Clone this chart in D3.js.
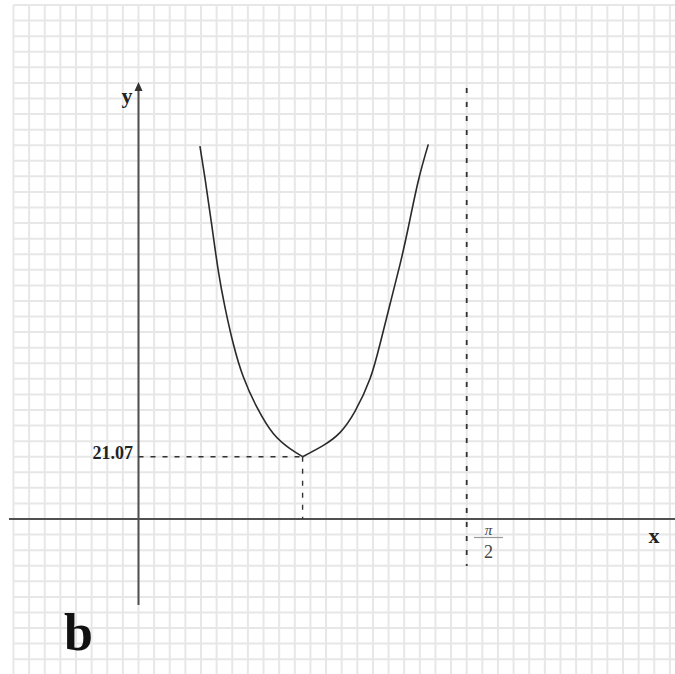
<!DOCTYPE html>
<html>
<head>
<meta charset="utf-8">
<script src="https://cdn.jsdelivr.net/npm/d3@7/dist/d3.min.js"></script>
<style>
  html, body { margin: 0; padding: 0; background: #fff; }
  svg { display: block; }
</style>
</head>
<body>
<svg id="chart" width="675" height="674"></svg>
<script>
// Left branch of the curve, down to the minimum at x = π/4
const leftX = [0.294, 0.318, 0.350, 0.382, 0.414, 0.454, 0.502, 0.566, 0.645, 0.725, 0.7854];
const leftY = [126.1, 115.4, 99.7, 83.9, 71.6, 59.2, 48.0, 37.9, 28.9, 23.8, 21.07];
// Right branch, from the minimum up towards the asymptote x = π/2
const rightX = [0.7854, 0.885, 0.964, 1.036, 1.108, 1.156, 1.204, 1.252, 1.291, 1.339, 1.387];
const rightY = [21.07, 24.9, 29.2, 36.4, 47.4, 59.2, 72.7, 86.2, 98.5, 114.3, 126.7];
const minPoint = { x: Math.PI / 4, y: 21.07 };
const minLabel = "21.07";
const asymptoteX = Math.PI / 2;

const W = 675, H = 674;
const svg = d3.select("#chart");

const x = d3.scaleLinear().domain([0, Math.PI / 2]).range([138.5, 466.7]);
const y = d3.scaleLinear().domain([0, 21.07]).range([519, 456.7]);

// graph-paper grid: 21 cells between 0 and π/2, 4 cells between 0 and 21.07
const dxCell = (Math.PI / 2) / 21;
const dyCell = 21.07 / 4;
const xMin = x.invert(11), xMax = x.invert(W);
const yMax = y.invert(3), yMin = y.invert(H);
const gx = d3.range(Math.ceil(xMin / dxCell), Math.floor(xMax / dxCell) + 1).map(k => k * dxCell);
const gy = d3.range(Math.ceil(yMin / dyCell), Math.floor(yMax / dyCell) + 1).map(k => k * dyCell);

const grid = svg.append("g").attr("stroke", "#e7e7e7").attr("stroke-width", 2);
grid.selectAll("line.v").data(gx).join("line")
  .attr("x1", d => x(d)).attr("x2", d => x(d))
  .attr("y1", y(gy[gy.length - 1])).attr("y2", H);
grid.selectAll("line.h").data(gy).join("line")
  .attr("x1", x(gx[0])).attr("x2", W)
  .attr("y1", d => y(d)).attr("y2", d => y(d));

// axes
const axisColor = "#505050";
svg.append("line")
  .attr("x1", 9).attr("x2", W).attr("y1", y(0)).attr("y2", y(0))
  .attr("stroke", axisColor).attr("stroke-width", 2);
svg.append("line")
  .attr("x1", x(0)).attr("x2", x(0)).attr("y1", 88).attr("y2", 605)
  .attr("stroke", axisColor).attr("stroke-width", 2);
svg.append("path")
  .attr("d", `M${x(0)},82 L${x(0) - 4},91 L${x(0) + 4},91 Z`)
  .attr("fill", "#333");

// dashed guides
const dash = "5,7";
svg.append("line")
  .attr("x1", x(asymptoteX)).attr("x2", x(asymptoteX)).attr("y1", 88).attr("y2", 566)
  .attr("stroke", "#333").attr("stroke-width", 1.8).attr("stroke-dasharray", "5,9");
svg.append("line")
  .attr("x1", x(0)).attr("x2", x(minPoint.x)).attr("y1", y(minPoint.y)).attr("y2", y(minPoint.y))
  .attr("stroke", "#333").attr("stroke-width", 1.4).attr("stroke-dasharray", dash);
svg.append("line")
  .attr("x1", x(minPoint.x)).attr("x2", x(minPoint.x)).attr("y1", y(minPoint.y)).attr("y2", y(0))
  .attr("stroke", "#333").attr("stroke-width", 1.4).attr("stroke-dasharray", dash);

// the curve, two branches meeting at the minimum
const line = d3.line().x(d => x(d[0])).y(d => y(d[1])).curve(d3.curveNatural);
[d3.zip(leftX, leftY), d3.zip(rightX, rightY)].forEach(pts => {
  svg.append("path").datum(pts).attr("d", line)
    .attr("fill", "none").attr("stroke", "#2a2a2a").attr("stroke-width", 1.6);
});

// labels
const serif = "'Liberation Serif', 'DejaVu Serif', serif";
svg.append("text").text("y").attr("x", 127).attr("y", 103)
  .attr("text-anchor", "middle").attr("font-family", serif).attr("font-weight", "bold")
  .attr("font-size", 22).attr("fill", "#222");
svg.append("text").text("x").attr("x", 654).attr("y", 543)
  .attr("text-anchor", "middle").attr("font-family", serif).attr("font-weight", "bold")
  .attr("font-size", 22).attr("fill", "#222");
svg.append("text").text(minLabel).attr("x", 133).attr("y", 459)
  .attr("text-anchor", "end").attr("font-family", serif).attr("font-weight", "bold")
  .attr("font-size", 18).attr("fill", "#222");

// π/2 under the asymptote
const fx = 488.5;
svg.append("text").text("π").attr("x", fx).attr("y", 535)
  .attr("text-anchor", "middle").attr("font-family", serif).attr("font-style", "italic")
  .attr("font-size", 15).attr("fill", "#444");
svg.append("line").attr("x1", 474).attr("x2", 503).attr("y1", 537.5).attr("y2", 537.5)
  .attr("stroke", "#999").attr("stroke-width", 1.2);
svg.append("text").text("2").attr("x", fx).attr("y", 558)
  .attr("text-anchor", "middle").attr("font-family", serif)
  .attr("font-size", 18).attr("fill", "#444");

svg.append("text").text("b").attr("x", 64).attr("y", 650)
  .attr("font-family", serif).attr("font-weight", "bold")
  .attr("font-size", 52).attr("fill", "#111");
</script>
</body>
</html>
